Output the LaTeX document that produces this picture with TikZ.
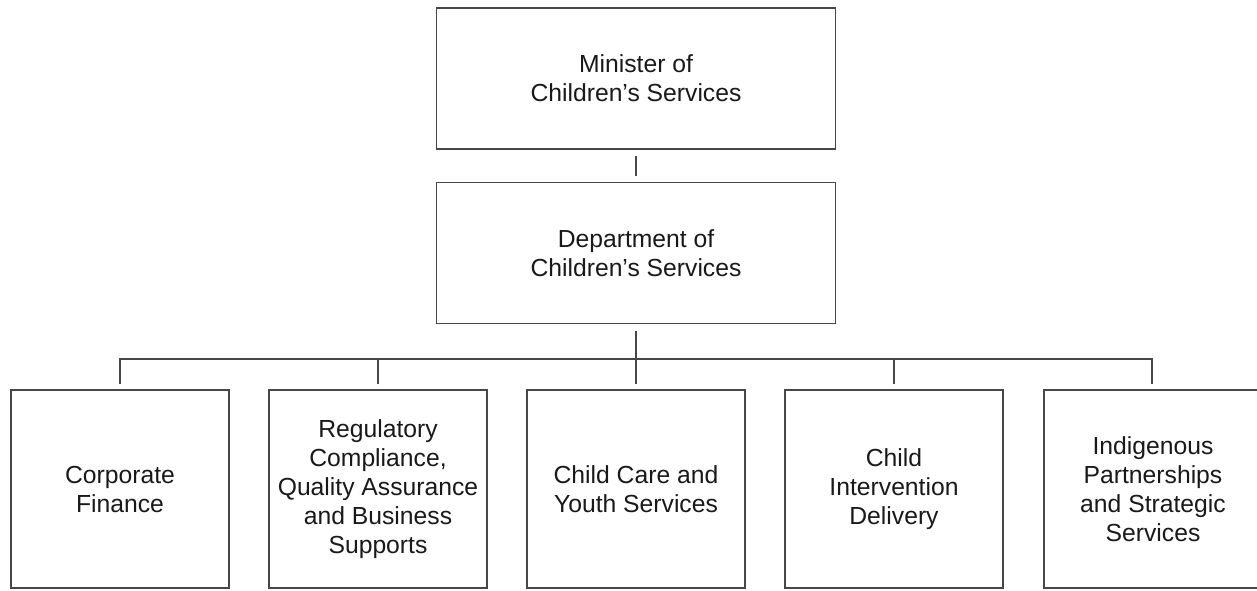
\documentclass[tikz,border=0pt]{standalone}
\usepackage{fontspec}
\setmainfont{Liberation Sans}
\begin{document}
\begin{tikzpicture}[x=1pt,y=-1pt,
  box/.style={draw=black!72,line width=1.3pt,rectangle,align=center,inner sep=0pt,
    font=\fontsize{24.7}{29}\selectfont,text=black!90},
  topbox/.style={box,minimum width=399pt,minimum height=141pt},
  unitbox/.style={box,minimum width=218pt,minimum height=198pt},
  conn/.style={draw=black!72,line width=1.3pt}]
\useasboundingbox (0,0) rectangle (1257,590);
\clip (0,0) rectangle (1257,590);
\node[topbox] (mini) at (636,78.5) {Minister of\\Children’s Services};
\node[topbox] (dept) at (636,253) {Department of\\Children’s Services};
\node[unitbox] (c1) at (120,489) {Corporate\\Finance};
\node[unitbox] (c2) at (378,489) {Regulatory\\Compliance,\\Quality Assurance\\and Business\\Supports};
\node[unitbox] (c3) at (636,489) {Child Care and\\Youth Services};
\node[unitbox] (c4) at (894,489) {Child\\Intervention\\Delivery};
\node[unitbox] (c5) at (1153,489) {Indigenous\\Partnerships\\and Strategic\\Services};
\coordinate (bus) at (636,359);
\draw[conn] ([yshift=-6pt]mini.south) -- ([yshift=6pt]dept.north);
\draw[conn] ([yshift=-7pt]dept.south) -- ([yshift=5pt]c3.north);
\draw[conn] ([yshift=5pt]c1.north) -- (c1.north |- bus) -- ([xshift=-1pt]c5.north |- bus) -- ([xshift=-1pt,yshift=5pt]c5.north);
\draw[conn] ([yshift=5pt]c2.north) -- (c2.north |- bus);
\draw[conn] ([yshift=5pt]c4.north) -- (c4.north |- bus);
\end{tikzpicture}
\end{document}
